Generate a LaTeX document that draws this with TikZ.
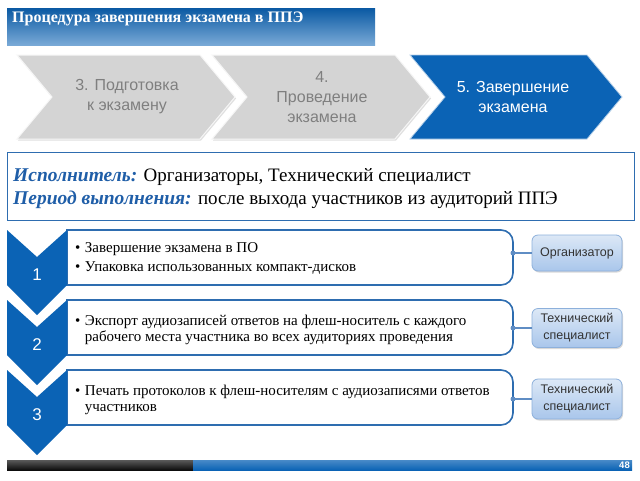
\documentclass[tikz,border=0pt]{standalone}
\usepackage{fontspec}
\setmainfont{Liberation Serif}
\setsansfont{Liberation Sans}
\usetikzlibrary{shadows}
\definecolor{blueA}{HTML}{0B63B5}
\definecolor{frameblue}{HTML}{2E6DB0}
\definecolor{chgray}{HTML}{D4D4D4}
\definecolor{chtext}{HTML}{7F7F7F}
\definecolor{labblue}{HTML}{1F5EA8}
\definecolor{tagtop}{HTML}{DCE8F6}
\definecolor{tagbot}{HTML}{A9C6EB}
\definecolor{tagline}{HTML}{8DB0DB}
\definecolor{connc}{HTML}{5F8DC4}
\begin{document}
\begin{tikzpicture}[x=1pt,y=-1pt,
  graychev/.style={fill=chgray,draw=white!80!chgray,line width=1pt,
    drop shadow={shadow xshift=1pt,shadow yshift=-1.5pt,opacity=0.25}},
  bluechev/.style={fill=blueA,draw=white!70!blueA,line width=0.8pt},
  vchev/.style={fill=blueA,draw=none},
  chevtext/.style={font=\sffamily\fontsize{16}{20}\selectfont,align=center,inner sep=0pt},
  rowframe/.style={draw=frameblue,line width=1.6pt,fill=white},
  rowtext/.style={font=\fontsize{15}{16.5}\selectfont,anchor=west,inner sep=0pt},
  tag/.style={draw=tagline,line width=0.8pt,rounded corners=6pt,top color=tagtop,bottom color=tagbot,
    minimum width=90pt,align=center,inner sep=0pt,text=black!80,
    font=\sffamily\fontsize{12.5}{17}\selectfont,
    drop shadow={shadow xshift=1pt,shadow yshift=-1.5pt,opacity=0.3}},
  conn/.style={draw=connc,line width=1.2pt},
  dot/.style={circle,fill=connc,inner sep=0pt,minimum size=5pt},
  numtext/.style={font=\sffamily\fontsize{17}{17}\selectfont,text=white,inner sep=0pt},
  infotext/.style={anchor=west,inner sep=0pt,font=\fontsize{19}{20}\selectfont}
]
\useasboundingbox (0,0) rectangle (640,480);
\fill[white] (0,0) rectangle (640,480);

% title bar
\node[top color=blueA!90!black,bottom color=blueA!55!white,minimum width=368pt,minimum height=37pt,inner sep=0pt] (titlebar) at (191,26.5) {};
\node[anchor=west,inner sep=0pt,text=white,font=\bfseries\fontsize{16}{16}\selectfont] (titletext) at (12,19) {Процедура завершения экзамена в ППЭ};

% horizontal chevrons
\path[graychev] (17,55) -- (200,55) -- (235,97) -- (200,139) -- (17,139) -- (52,97) -- cycle;
\path[graychev] (212,55) -- (395,55) -- (430,97) -- (395,139) -- (212,139) -- (247,97) -- cycle;
\path[bluechev] (410,55) -- (587,55) -- (622,97) -- (587,139) -- (410,139) -- (445,97) -- cycle;
\node[chevtext,text=chtext] (c1) at (127,97) {3. Подготовка\\к экзамену};
\node[chevtext,text=chtext] (c2) at (322,97) {4.\\Проведение\\экзамена};
\node[chevtext,text=white] (c3) at (513,97) {5. Завершение\\экзамена};

% info box
\node[draw=frameblue,line width=1.6pt,fill=white,minimum width=627pt,minimum height=68pt,inner sep=0pt] (info) at (321,186.5) {};
\node[infotext] (info1) at (13,177)
  {\textcolor{labblue}{\fontsize{19.5}{20}\selectfont\bfseries\itshape Исполнитель:} Организаторы, Технический специалист};
\node[infotext] (info2) at (13,200)
  {\textcolor{labblue}{\fontsize{19.5}{20}\selectfont\bfseries\itshape Период выполнения:} после выхода участников из аудиторий ППЭ};

% row frames
\foreach \t in {230,300,370}{
  \path[rowframe] (67,\t) -- (501,\t) arc[start angle=-90,end angle=0,radius=12] -- (513,\t+43)
     arc[start angle=0,end angle=90,radius=12] -- (67,\t+55) -- cycle;
}
\coordinate (r1) at (513,253);
\coordinate (r2) at (513,328);
\coordinate (r3) at (513,399);

% vertical chevrons
\foreach \t in {230,300,370}{
  \fill[vchev] (7,\t) -- (37,\t+27) -- (67,\t) -- (67,\t+55) -- (37,\t+85) -- (7,\t+55) -- cycle;
}
\node[numtext] (n1) at (37,275) {1};
\node[numtext] (n2) at (37,345) {2};
\node[numtext] (n3) at (37,415) {3};

% row texts
\node[rowtext] (t1) at (75,258.5) {\begin{tabular}{@{}l@{\hspace{4.5pt}}l@{}}
 \textbullet & Завершение экзамена в ПО\\[2.5pt]
 \textbullet & Упаковка использованных компакт-дисков\end{tabular}};
\node[rowtext] (t2) at (75,330) {\begin{tabular}{@{}l@{\hspace{4.5pt}}l@{}}
 \textbullet & Экспорт аудиозаписей ответов на флеш-носитель с каждого\\
  & рабочего места участника во всех аудиториях проведения\end{tabular}};
\node[rowtext] (t3) at (75,400) {\begin{tabular}{@{}l@{\hspace{4.5pt}}l@{}}
 \textbullet & Печать протоколов к флеш-носителям с аудиозаписями ответов\\
  & участников\end{tabular}};

% tags
\node[tag,minimum height=36pt] (o1) at (577,253) {Организатор};
\node[tag,minimum height=39pt] (o2) at (577,328) {Технический\\специалист};
\node[tag,minimum height=40pt] (o3) at (577,399) {Технический\\специалист};
\draw[conn] (r1) -- (o1.west);
\draw[conn] (r2) -- (o2.west);
\draw[conn] (r3) -- (o3.west);
\node[dot] (d1) at (r1) {};
\node[dot] (d2) at (r2) {};
\node[dot] (d3) at (r3) {};

% footer
\fill[top color=black!65,bottom color=black!95] (7,460) rectangle (193,470);
\fill[top color=blueA!75!white,bottom color=blueA] (193,460) rectangle (632,470);
\node[anchor=east,inner sep=0pt,text=white,font=\sffamily\bfseries\fontsize{9.5}{10}\selectfont] (pg) at (630,465) {48};
\end{tikzpicture}
\end{document}
